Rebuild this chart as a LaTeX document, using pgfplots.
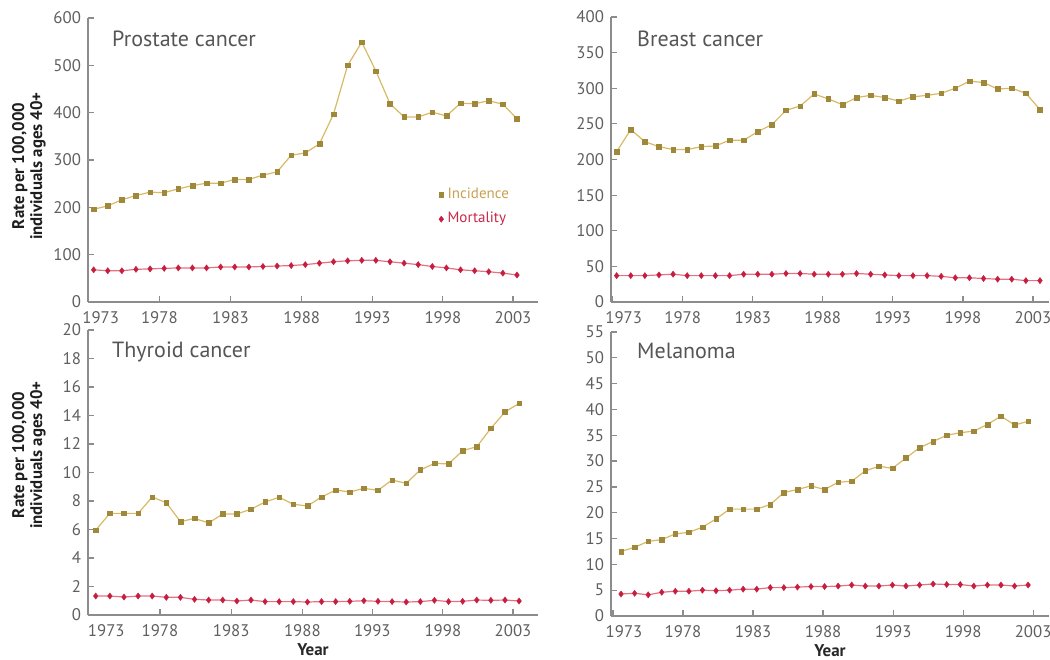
\documentclass[border=0pt]{standalone}
\usepackage{pgfplots}
\pgfplotsset{compat=1.18}
\usepackage{pgfplotstable}
\usepackage{fontspec}
\setmainfont{PT Sans}

\definecolor{incline}{RGB}{216,186,100}
\definecolor{incmark}{RGB}{160,136,58}
\definecolor{mortline}{RGB}{232,112,132}
\definecolor{mortmark}{RGB}{198,30,62}
\definecolor{inctext}{RGB}{200,160,82}
\definecolor{morttext}{RGB}{200,40,72}
\definecolor{axgray}{RGB}{140,140,140}
\definecolor{tlgray}{RGB}{95,95,95}
\definecolor{titlegray}{RGB}{85,85,85}

\pgfplotstableread{
year inc mort
1973 196 68
1974 203 66
1975 216 66
1976 225 69
1977 232 70
1978 231 71
1979 239 72
1980 246 72
1981 251 72
1982 251 74
1983 259 74
1984 259 74
1985 268 75
1986 275 76
1987 310 77
1988 315 79
1989 334 82
1990 397 85
1991 500 87
1992 549 88
1993 488 88
1994 419 85
1995 391 82
1996 391 79
1997 401 75
1998 393 72
1999 420 68
2000 419 66
2001 425 64
2002 418 61
2003 387 57
}\prostate

\pgfplotstableread{
year inc mort
1973 211 37
1974 242 37
1975 225 37
1976 218 38
1977 214 39
1978 214 37
1979 218 37
1980 219 37
1981 227 37
1982 227 39
1983 239 39
1984 249 39
1985 269 40
1986 275 40
1987 292 39
1988 285 39
1989 277 39
1990 287 40
1991 290 39
1992 287 38
1993 282 37
1994 288 37
1995 290 37
1996 293 36
1997 300 34
1998 310 34
1999 308 33
2000 299 32
2001 300 32
2002 293 30
2003 270 30
}\breast

\pgfplotstableread{
year inc mort
1973 5.96 1.33
1974 7.13 1.33
1975 7.13 1.26
1976 7.13 1.33
1977 8.28 1.33
1978 7.88 1.24
1979 6.55 1.24
1980 6.78 1.10
1981 6.46 1.05
1982 7.09 1.05
1983 7.09 0.98
1984 7.42 1.05
1985 7.93 0.94
1986 8.26 0.94
1987 7.77 0.94
1988 7.65 0.91
1989 8.28 0.94
1990 8.77 0.94
1991 8.63 0.96
1992 8.89 1.00
1993 8.75 0.96
1994 9.47 0.94
1995 9.24 0.91
1996 10.18 0.94
1997 10.64 1.03
1998 10.60 0.94
1999 11.53 0.96
2000 11.81 1.05
2001 13.10 1.03
2002 14.25 1.05
2003 14.85 0.98
}\thyroid

\pgfplotstableread{
year inc mort
1973 12.5 4.26
1974 13.3 4.4
1975 14.45 4.1
1976 14.8 4.6
1977 15.9 4.8
1978 16.2 4.8
1979 17.2 5.0
1980 18.8 4.9
1981 20.7 5.0
1982 20.7 5.2
1983 20.7 5.2
1984 21.6 5.5
1985 23.9 5.5
1986 24.5 5.6
1987 25.2 5.7
1988 24.5 5.7
1989 25.9 5.8
1990 26.1 6.0
1991 28.1 5.8
1992 29.0 5.8
1993 28.6 6.0
1994 30.6 5.8
1995 32.6 6.0
1996 33.8 6.2
1997 35.0 6.1
1998 35.5 6.1
1999 35.8 5.8
2000 37.1 6.0
2001 38.7 6.0
2002 37.0 5.8
2003 37.7 6.0
}\melanoma

\tikzset{
  ptitle/.style={anchor=base west, inner sep=0pt, font=\fontsize{11}{13}\selectfont, text=titlegray},
  ylabnode/.style={rotate=90, align=center, anchor=center, font=\bfseries\fontsize{8.4}{9}\selectfont, text={rgb,255:red,30;green,30;blue,30}},
}

\pgfplotsset{
  panel/.style={
    scale only axis,
    axis lines=left,
    axis line style={draw=axgray, line width=0.7pt, -},
    tick align=inside,
    major tick length=3pt,
    tick style={draw=axgray, line width=0.6pt},
    ticklabel style={font=\fontsize{8.4}{9.5}\selectfont, text=tlgray},
    xticklabel style={yshift=-1pt},
    /pgf/number format/assume math mode=true,
    clip=false,
  },
  incstyle/.style={draw=incline, line width=0.6pt, mark=square*, mark size=1.15pt,
    mark options={fill=incmark, draw=incmark, line width=0.2pt}},
  mortstyle/.style={draw=mortline, line width=0.6pt, mark=diamond*, mark size=1.55pt,
    mark options={fill=mortmark, draw=mortmark, line width=0.2pt}},
  xlab/.style={
    xlabel={Year},
    xlabel style={font=\bfseries\fontsize{8.5}{10}\selectfont, text={rgb,255:red,40;green,40;blue,40}, anchor=center, at={(axis description cs:0.5,-0.123)}},
  },
}

\begin{document}
\begin{tikzpicture}
\useasboundingbox (0,0) rectangle (525pt,329.5pt);

% Prostate
\begin{axis}[panel,
  at={(44pt,178.5pt)}, anchor=south west,
  width=225pt, height=142pt,
  xmin=1972.6, xmax=2004.49, ymin=0, ymax=600,
  xtick={1972.65,1977.66,1982.7,1987.75,1992.75,1997.75,2002.72},
  xticklabels={\hspace*{12pt}1973,1978,1983,1988,1993,1998,2003},
  ytick={0,100,...,600},
  legend style={at={(axis description cs:0.779,0.335)}, anchor=west, draw=none, fill=none,
    font=\fontsize{7.5}{8.5}\selectfont, row sep=1.5pt, inner sep=0pt,
    /tikz/every even column/.append style={column sep=1pt}},
  legend cell align=left,
  legend image code/.code={\path[#1] plot coordinates {(0.08cm,0cm)};},
]
\addplot[incstyle] table[x=year,y=inc] {\prostate};
\addlegendentry{\textcolor{inctext}{Incidence}}
\addplot[mortstyle] table[x=year,y=mort] {\prostate};
\addlegendentry{\textcolor{morttext}{Mortality}}
\node[ptitle] at (axis description cs:0.053,0.898) {Prostate cancer};
\end{axis}

% Breast
\begin{axis}[panel,
  at={(305.5pt,178.5pt)}, anchor=south west,
  width=219pt, height=142.5pt,
  xmin=1972.6, xmax=2003.64, ymin=0, ymax=400,
  xtick={1972.72,1977.68,1982.65,1987.61,1992.57,1997.54,2002.5},
  xticklabels={\hspace*{11pt}1973,1978,1983,1988,1993,1998,2003},
  ytick={0,50,...,400},
]
\addplot[incstyle] table[x=year,y=inc] {\breast};
\addplot[mortstyle] table[x=year,y=mort] {\breast};
\node[ptitle] at (axis description cs:0.059,0.895) {Breast cancer};
\end{axis}

% Thyroid
\begin{axis}[panel, xlab,
  at={(44pt,22pt)}, anchor=south west,
  width=225pt, height=142.5pt,
  xmin=1972.45, xmax=2004.34, ymin=0, ymax=20,
  xtick={1972.47,1977.55,1982.6,1987.64,1992.6,1997.6,2002.57},
  xticklabels={\hspace*{18pt}1973,1978,1983,1988,1993,1998,2003},
  ytick={0,2,...,20},
]
\addplot[incstyle] table[x=year,y=inc] {\thyroid};
\addplot[mortstyle] table[x=year,y=mort] {\thyroid};
\node[ptitle] at (axis description cs:0.053,0.905) {Thyroid cancer};
\end{axis}

% Melanoma
\begin{axis}[panel, xlab,
  at={(305.5pt,21.5pt)}, anchor=south west,
  width=219pt, height=142pt,
  xmin=1972.26, xmax=2004.54, ymin=0, ymax=55,
  xtick={1972.41,1977.57,1982.73,1987.89,1993.05,1998.21,2003.37},
  xticklabels={\hspace*{11pt}1973,1978,1983,1988,1993,1998,2003},
  ytick={0,5,...,55},
]
\addplot[incstyle] table[x=year,y=inc] {\melanoma};
\addplot[mortstyle] table[x=year,y=mort] {\melanoma};
\node[ptitle] at (axis description cs:0.059,0.908) {Melanoma};
\end{axis}

% y-axis labels
\node[ylabnode] at (14.5pt,246.5pt) {Rate per 100,000\\individuals ages 40+};
\node[ylabnode] at (14.5pt,102pt) {Rate per 100,000\\individuals ages 40+};
\end{tikzpicture}
\end{document}
